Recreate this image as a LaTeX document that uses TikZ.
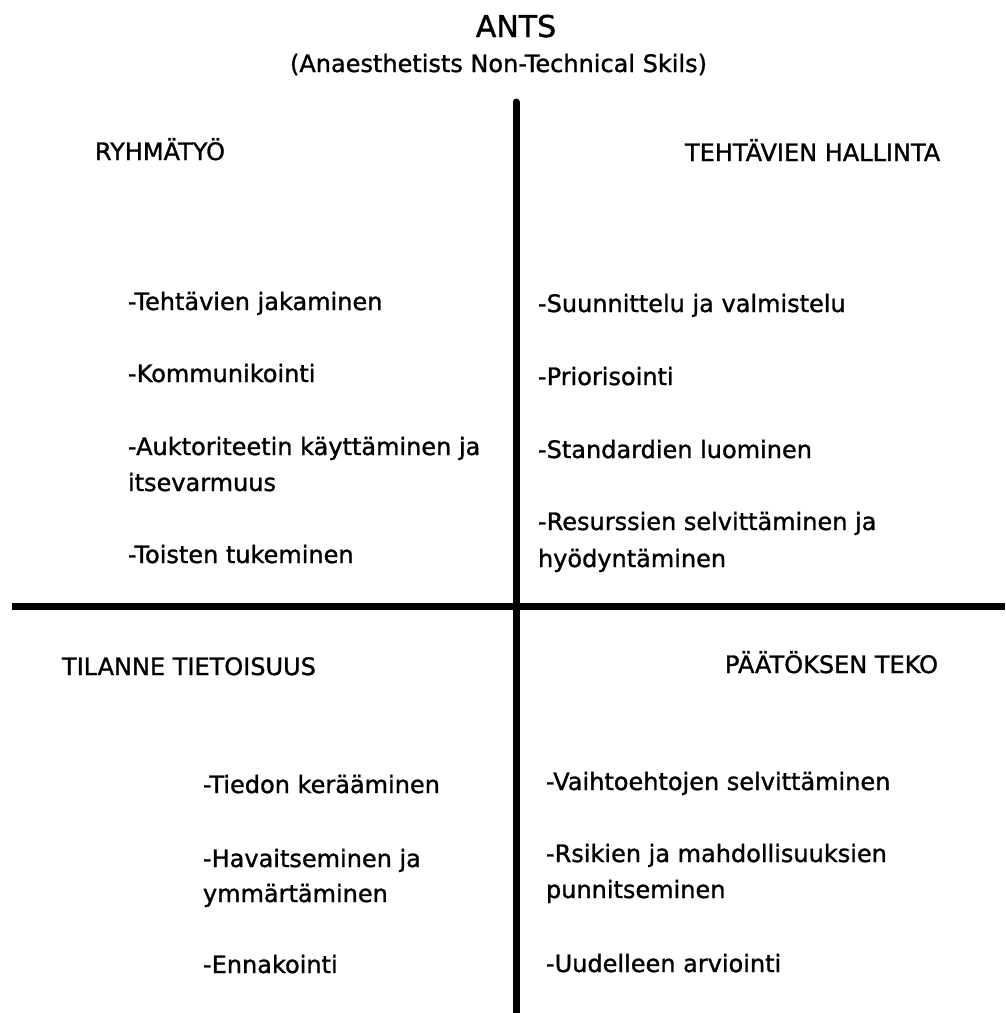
\documentclass[tikz,border=0pt]{standalone}
\usepackage{fontspec}
\setmainfont{DejaVu Sans}[FakeBold=1.2]
\begin{document}
\begin{tikzpicture}[x=1pt,y=-1pt,
  txt/.style={inner sep=0pt,outer sep=0pt,anchor=base west,font=\fontsize{24}{36}\selectfont},
  ctr/.style={inner sep=0pt,outer sep=0pt,anchor=base},
  axis/.style={line width=7pt,black}]
\useasboundingbox (0,0) rectangle (1005,1013);
% title
\node[ctr,font=\fontsize{30}{36}\selectfont] (title) at (516,37) {ANTS};
\node[ctr,font=\fontsize{24}{30}\selectfont] (subtitle) at (498.5,72) {(Anaesthetists Non-Technical Skils)};
% axes
\coordinate (vtop) at (516,102);
\coordinate (vbot) at (516,1013);
\coordinate (hleft) at (12,606);
\coordinate (hright) at (1005,606);
\draw[axis,line cap=round] (vtop) -- (vbot);
\draw[axis,line cap=butt] (hleft) -- (hright);
% headings
\node[txt] (h1) at (95,160) {RYHMÄTYÖ};
\node[txt] (h2) at (685,161) {TEHTÄVIEN HALLINTA};
\node[txt] (h3) at (62,675) {TILANNE TIETOISUUS};
\node[txt] (h4) at (725,673) {PÄÄTÖKSEN TEKO};
% top left
\node[txt] (tl1) at (128,310) {-Tehtävien jakaminen};
\node[txt] (tl2) at (128,382) {-Kommunikointi};
\node[txt] (tl3) at (128,455) {-Auktoriteetin käyttäminen ja};
\node[txt] (tl3b) at (128,491) {itsevarmuus};
\node[txt] (tl4) at (128,563) {-Toisten tukeminen};
% top right
\node[txt] (tr1) at (538,312) {-Suunnittelu ja valmistelu};
\node[txt] (tr2) at (538,385) {-Priorisointi};
\node[txt] (tr3) at (538,458) {-Standardien luominen};
\node[txt] (tr4) at (538,530) {-Resurssien selvittäminen ja};
\node[txt] (tr4b) at (538,567) {hyödyntäminen};
% bottom left
\node[txt] (bl1) at (203,793) {-Tiedon kerääminen};
\node[txt] (bl2) at (203,867) {-Havaitseminen ja};
\node[txt] (bl2b) at (203,902) {ymmärtäminen};
\node[txt] (bl3) at (203,973) {-Ennakointi};
% bottom right
\node[txt] (br1) at (546,790) {-Vaihtoehtojen selvittäminen};
\node[txt] (br2) at (546,862) {-Rsikien ja mahdollisuuksien};
\node[txt] (br2b) at (546,898) {punnitseminen};
\node[txt] (br3) at (546,972) {-Uudelleen arviointi};
\end{tikzpicture}
\end{document}
